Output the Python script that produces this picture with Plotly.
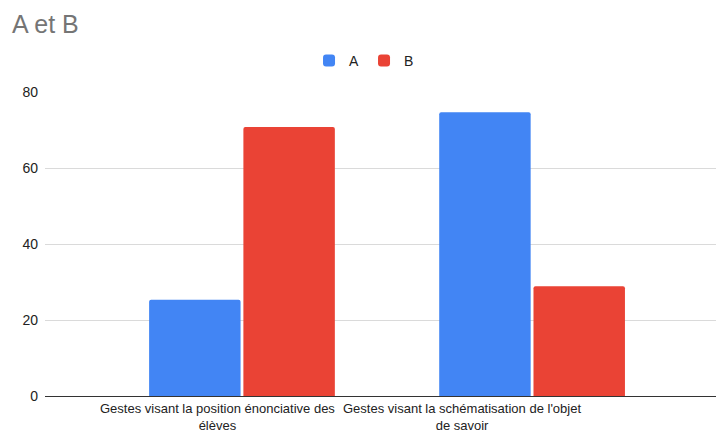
import plotly.graph_objects as go

categories = ["Gestes visant la position énonciative des<br>élèves",
              "Gestes visant la schématisation de l'objet<br>de savoir"]
cat_keys = ["c1", "c2"]
series_a = [25.3, 74.7]
series_b = [70.8, 28.9]
y_ticks = [0, 20, 40, 60, 80]

FONT = "Liberation Sans, Arial, sans-serif"

fig = go.Figure()
fig.add_trace(go.Bar(name="A", x=cat_keys, y=series_a, marker=dict(color="#4285F4", cornerradius=2, line=dict(width=0))))
fig.add_trace(go.Bar(name="B", x=cat_keys, y=series_b, marker=dict(color="#EA4335", cornerradius=2, line=dict(width=0))))

label_shifts = [-24, -70]
for key, text, sh in zip(cat_keys, categories, label_shifts):
    fig.add_annotation(x=key, xref="x", y=0, yref="paper", yanchor="top", yshift=-3,
                       xshift=sh, text=text, showarrow=False, align="center",
                       font=dict(family=FONT, size=13, color="#222222"))

fig.update_layout(
    width=718, height=432,
    margin=dict(l=45, r=2, t=92, b=36),
    paper_bgcolor="white", plot_bgcolor="white",
    font=dict(family=FONT, size=14, color="#222222"),
    title=dict(text="A et B", x=12/718, xanchor="left", xref="container",
               y=1 - 24/432, yanchor="middle", yref="container",
               font=dict(family=FONT, size=25, color="#757575")),
    barmode="group", bargap=0.35, bargroupgap=0.03,
    showlegend=True,
    legend=dict(orientation="h", x=0.507, xanchor="center", xref="container",
                y=1 - 61/432, yanchor="middle", yref="container",
                font=dict(family=FONT, size=14, color="#222222"),
                itemclick=False),
    xaxis=dict(type="category", range=[-0.679, 1.634], showticklabels=False,
               showgrid=False, showline=False, zeroline=False, ticks=""),
    yaxis=dict(range=[0, 80], tickvals=y_ticks, showgrid=True, gridcolor="#dadada",
               gridwidth=1, zeroline=True, zerolinecolor="#333333", zerolinewidth=1,
               showline=False, ticks="", ticklabelstandoff=6,
               tickfont=dict(family=FONT, size=14, color="#222222")),
)

fig.write_html("out.html", config={"displayModeBar": False},
               post_script="document.body.style.margin='0';document.body.style.overflow='hidden';")
